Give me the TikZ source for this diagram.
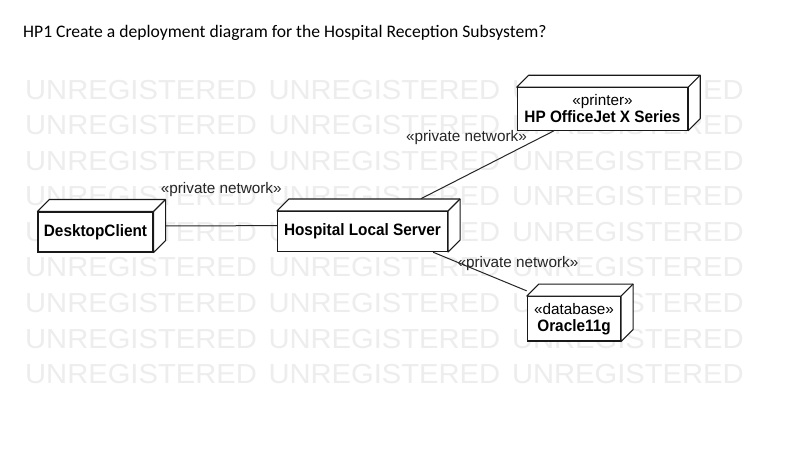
\documentclass[tikz,border=0pt]{standalone}
\usepackage{fontspec}
\setmainfont{Liberation Sans}
\newfontfamily\titlefont{Carlito}
\newfontfamily\wmfont[FakeStretch=1.06]{Liberation Sans}
\newfontfamily\boldnarrow[FakeStretch=0.93]{Liberation Sans Bold}
\usetikzlibrary{calc,fit}
\begin{document}
\begin{tikzpicture}[x=1pt,y=-1pt,
  wm/.style={anchor=west, inner sep=0, text=black!7, font=\wmfont\fontsize{27.5}{30}\selectfont},
  front/.style={draw=black!90, line width=1.1pt, fill=white, rectangle, inner sep=0, align=center, font=\fontsize{15.3}{18}\selectfont},
  side/.style={draw=black!90, line width=1.1pt, fill=white, line join=round},
  conn/.style={draw=black!85, line width=1pt},
  lbl/.style={font=\fontsize{15.3}{18}\selectfont, text=black!85, inner sep=0},
  full/.style={inner sep=0, draw=none, rectangle}
]
\newcommand\bn[1]{{\boldnarrow\fontsize{16.5}{18}\selectfont #1}}
\fill[white] (0,0) rectangle (785,455);
\useasboundingbox (0,0) rectangle (785,455);

% title
\node[anchor=base west, inner sep=0, font=\titlefont\fontsize{17.6}{20}\selectfont] (title) at (23,37)
  {HP1 Create a deployment diagram for the Hospital Reception Subsystem?};

% watermark
\foreach \i in {0,1,2}{
  \foreach \j in {0,...,8}{
    \node[wm] (wm-\i-\j) at ({25+243.4*\i},{89.7+35.55*\j}) {UNREGISTERED};
  }
}

% nodes (front faces)
\node[front, minimum width=115pt, minimum height=40pt] (dc) at (95.5,232) {\bn{DesktopClient}};
\node[front, minimum width=170pt, minimum height=40pt] (hls) at (362.5,231.5) {\bn{Hospital Local Server}};
\node[front, minimum width=170.4pt, minimum height=42.3pt] (pr) at (602.5,108.9) {«printer»\\[-1pt]\bn{HP OfficeJet X Series}};
\node[front, minimum width=93.2pt, minimum height=44.4pt] (db) at (574,318.8) {«database»\\[-1pt]\bn{Oracle11g}};

% 3D faces and full boxes
\foreach \n in {dc,hls,pr,db}{
  \draw[side] (\n.north west) -- ($(\n.north west)+(12,-12)$) -- ($(\n.north east)+(12,-12)$)
     -- ($(\n.south east)+(12,-12)$) -- (\n.south east) -- (\n.north east) -- cycle;
  \draw[side] (\n.north east) -- ($(\n.north east)+(12,-12)$);
  \coordinate (\n-c) at ($(\n.north east)+(12,-12)$);
  \node[full, fit=(\n)(\n-c)] (\n-box) {};
}

% connectors
\draw[conn] (dc-box) -- node[lbl, midway, shift={(0,-36)}] (l1) {«private network»} (hls-box);
\draw[conn] (hls-box) -- node[lbl, midway, shift={(-21,-27)}] (l2) {«private network»} (pr-box);
\draw[conn] (hls-box) -- node[lbl, midway, shift={(38,-8)}] (l3) {«private network»} (db-box);
\end{tikzpicture}
\end{document}
